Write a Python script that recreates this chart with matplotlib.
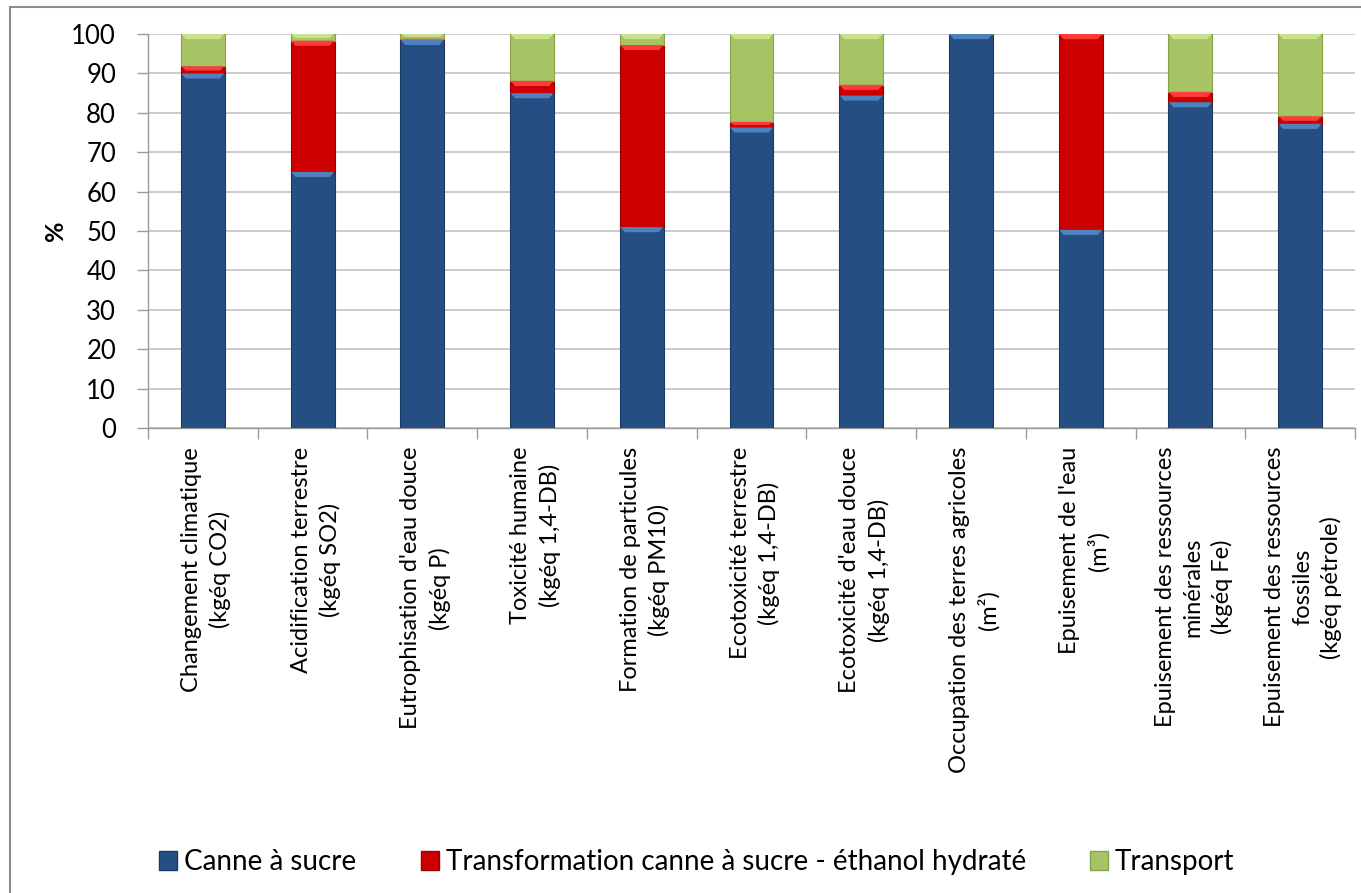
import matplotlib
matplotlib.use("Agg")
import matplotlib.pyplot as plt
from matplotlib.patches import Patch, Polygon
from matplotlib.lines import Line2D
import numpy as np

categories = [
    "Changement climatique\n(kgéq CO2)",
    "Acidification terrestre\n(kgéq SO2)",
    "Eutrophisation d'eau douce\n(kgéq P)",
    "Toxicité humaine\n(kgéq 1,4-DB)",
    "Formation de particules\n(kgéq PM10)",
    "Ecotoxicité terrestre\n(kgéq 1,4-DB)",
    "Ecotoxicité d'eau douce\n(kgéq 1,4-DB)",
    "Occupation des terres agricoles\n(m²)",
    "Epuisement de l'eau\n(m³)",
    "Epuisement des ressources\nminérales\n(kgéq Fe)",
    "Epuisement des ressources\nfossiles\n(kgéq pétrole)",
]

canne = [90.0, 65.0, 98.5, 85.0, 51.0, 76.3, 84.4, 100.0, 50.3, 82.7, 77.2]
transformation = [1.8, 33.3, 0.3, 3.1, 46.2, 1.4, 2.7, 0.0, 49.7, 2.6, 1.9]
transport = [8.2, 1.7, 1.2, 11.9, 2.8, 22.3, 12.9, 0.0, 0.0, 14.7, 20.9]

series_names = ["Canne à sucre",
                "Transformation canne à sucre - éthanol hydraté",
                "Transport"]
series_values = [canne, transformation, transport]
face_colors = ["#254F82", "#CC0000", "#A6C463"]
edge_colors = ["#1B3A62", "#9E0000", "#86A24C"]
bevel_colors = ["#4F81BD", "#FF3B3B", "#C9E28F"]

yticks = [0, 10, 20, 30, 40, 50, 60, 70, 80, 90, 100]

plt.rcParams["font.family"] = ["Lato", "DejaVu Sans"]

fig = plt.figure(figsize=(13.61, 8.93), dpi=100)
ax = fig.add_axes([148 / 1361, 1 - 428 / 893, (1355 - 148) / 1361, (428 - 34) / 893])

x = np.arange(len(categories))
width = 0.4
bottom = np.zeros(len(categories))
bevel_h = 1.3
inset = 0.045

for vals, fc, ec, bc in zip(series_values, face_colors, edge_colors, bevel_colors):
    vals = np.array(vals)
    ax.bar(x, vals, width, bottom=bottom, color=fc, edgecolor=ec,
           linewidth=0.8, zorder=3)
    # light bevel along the top edge of each segment
    for xi, b, v in zip(x, bottom, vals):
        if v <= 0:
            continue
        h = min(bevel_h, v * 0.6)
        top = b + v
        left, right = xi - width / 2, xi + width / 2
        poly = Polygon([[left + 0.004, top], [right - 0.004, top],
                        [right - inset, top - h], [left + inset, top - h]],
                       closed=True, facecolor=bc, edgecolor="none", zorder=4)
        ax.add_patch(poly)
    bottom = bottom + vals

ax.set_xlim(-0.5, len(categories) - 0.5)
ax.set_ylim(0, 100)
ax.set_yticks(yticks)
ax.set_yticklabels([str(t) for t in yticks], fontsize=18.5)
ax.yaxis.grid(True, color="#BDBDBD", linewidth=1.1, zorder=0)
ax.set_axisbelow(True)

ax.set_xticks(x)
ax.set_xticklabels([])
ax.tick_params(axis="x", which="major", length=0)
ax.set_xticks(np.arange(-0.5, len(categories), 1.0), minor=True)
ax.tick_params(axis="x", which="minor", length=8, color="#9A9A9A", width=1)
ax.tick_params(axis="y", length=8, color="#9A9A9A", width=1, pad=15)

for side in ["top", "right"]:
    ax.spines[side].set_visible(False)
for side in ["left", "bottom"]:
    ax.spines[side].set_color("#9A9A9A")
    ax.spines[side].set_linewidth(1)

for xi, lab in zip(x, categories):
    ax.text(xi + 0.03, -4.8, lab, rotation=90, ha="center", va="top",
            multialignment="center", fontsize=17, linespacing=1.4,
            transform=ax.transData, clip_on=False)

ax.set_ylabel("%", fontsize=18, fontweight="bold", labelpad=3)

handles = [Patch(facecolor=fc, edgecolor=ec) for fc, ec in zip(face_colors, edge_colors)]
fig.legend(handles, series_names, loc="center", bbox_to_anchor=(0.512, 1 - 862 / 893),
           ncol=3, frameon=False, fontsize=20, handlelength=0.65, handleheight=0.65,
           handletextpad=0.25, columnspacing=2.3)

# outer chart frame
fig.add_artist(Line2D([10 / 1361, 10 / 1361], [0, 1 - 7 / 893],
                      transform=fig.transFigure, color="#8C8C8C", linewidth=1.5))
fig.add_artist(Line2D([10 / 1361, 1], [1 - 7 / 893, 1 - 7 / 893],
                      transform=fig.transFigure, color="#8C8C8C", linewidth=1.5))

fig.savefig("out.png", dpi=100)
